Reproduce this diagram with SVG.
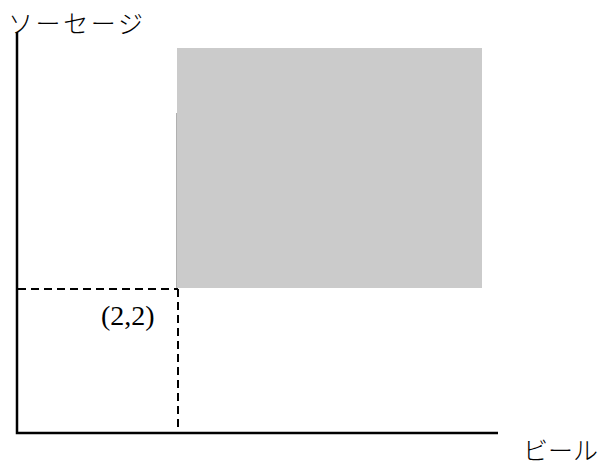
<svg xmlns="http://www.w3.org/2000/svg" width="601" height="466" viewBox="0 0 601 466">
<style>
.axis{stroke:#000;stroke-width:2.5;fill:none}
.dash{stroke:#000;stroke-width:2;stroke-dasharray:8,5;fill:none}
.jp{font-family:"Liberation Serif","Noto Sans CJK JP",serif;font-size:25px;font-weight:300;fill:#000}
.num{font-family:"Liberation Serif",serif;font-size:28px;fill:#000}
</style>
<rect width="601" height="466" fill="#fff"/>
<g id="region">
<rect x="177" y="48" width="305" height="240" fill="#cbcbcb"/>
<line x1="176.5" y1="113" x2="176.5" y2="288" stroke="#b0b0b0" stroke-width="1"/>
</g>
<g id="connectors">
<line class="dash" x1="18" y1="289" x2="178" y2="289"/>
<line class="dash" x1="178" y1="289" x2="178" y2="433"/>
<polyline class="axis" points="17,32 17,433 498,433"/>
</g>
<g id="labels">
<text class="jp" x="8" y="33" textLength="135">ソーセージ</text>
<text class="jp" x="598" y="460" text-anchor="end">ビール</text>
<text class="num" x="101" y="325">(2,2)</text>
</g>
</svg>
